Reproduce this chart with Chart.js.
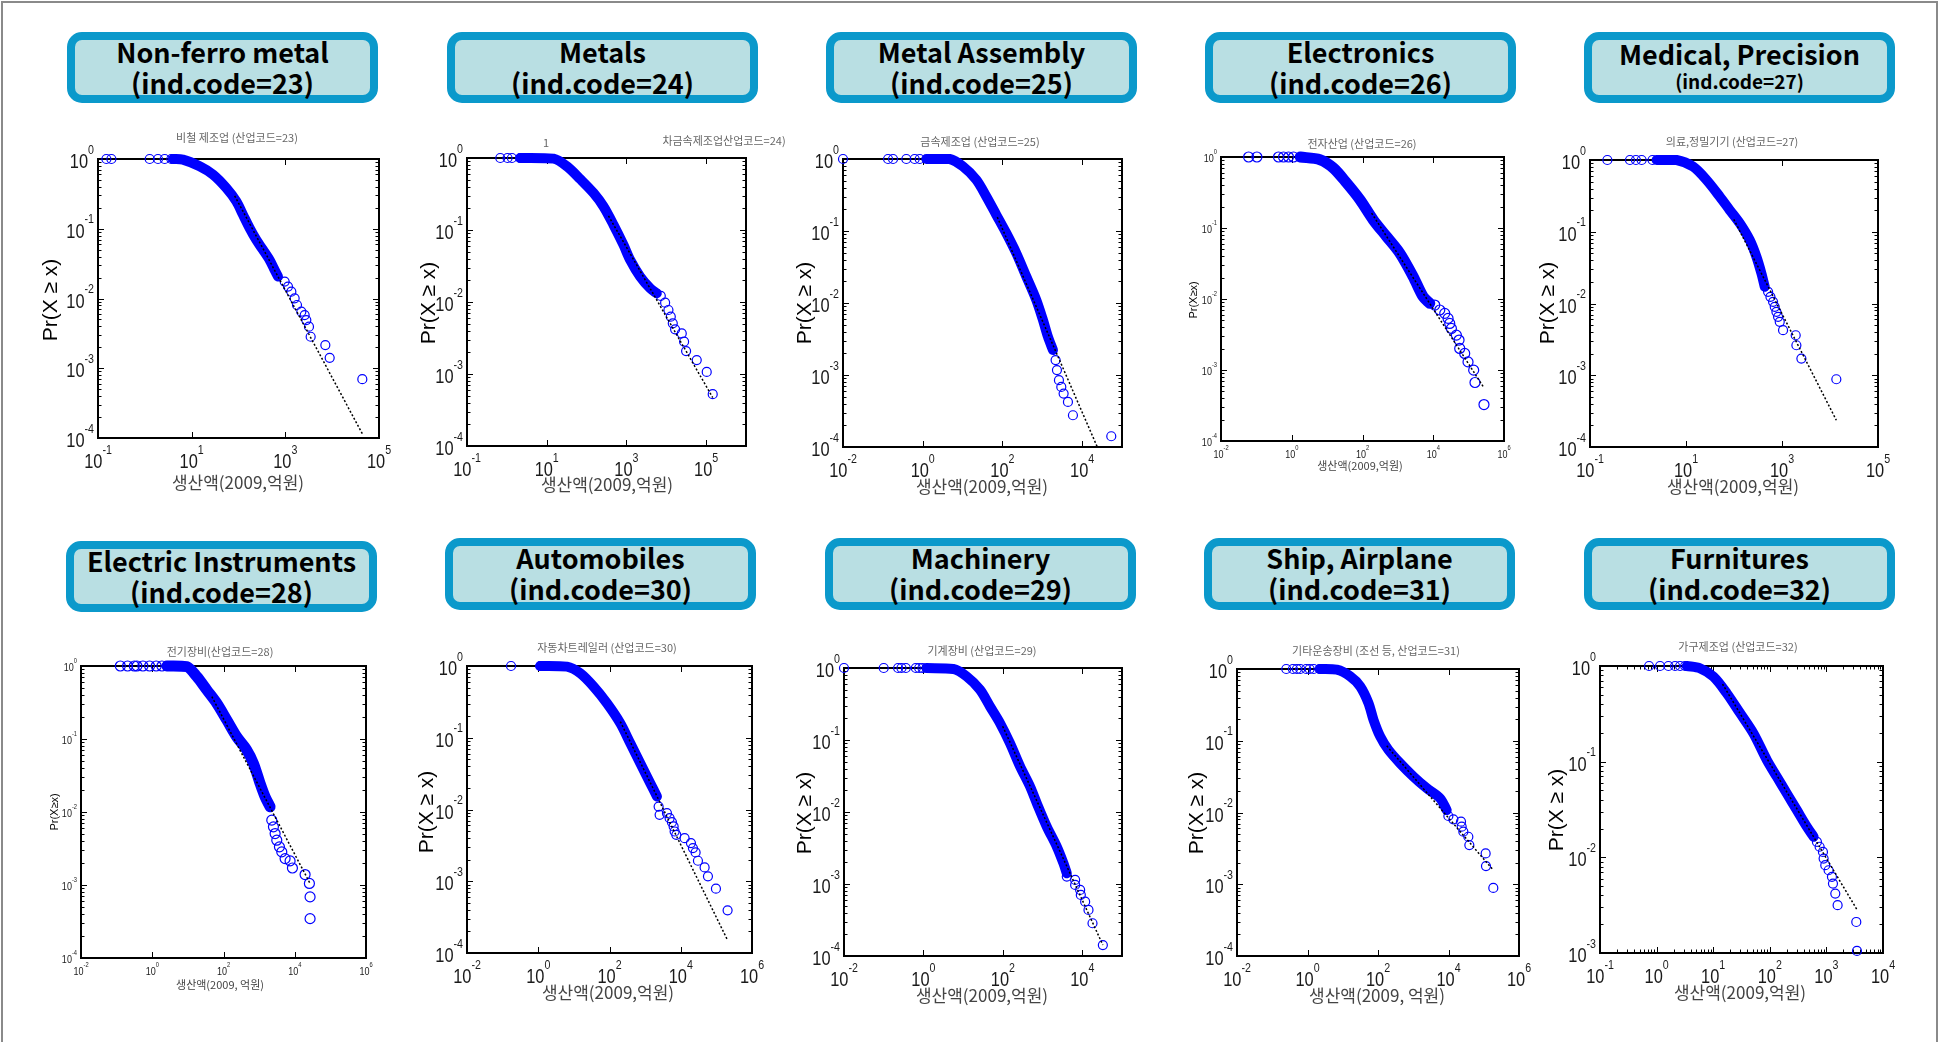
<!DOCTYPE html>
<html><head><meta charset="utf-8">
<script src="https://cdn.jsdelivr.net/npm/chart.js@4.4.1/dist/chart.umd.min.js"></script>
<style>
html,body{margin:0;padding:0;background:#fff;}
body{width:1939px;height:1042px;position:relative;overflow:hidden;}
#frame{position:absolute;left:1px;top:1px;width:1937px;height:1100px;border:2px solid #8a8a8a;box-sizing:border-box;}
.tbox{position:absolute;box-sizing:border-box;border:8px solid #0b99cb;border-radius:15px;background:#b9dfe3;}
.tbox div{position:absolute;left:0;right:0;text-align:center;font-weight:700;font-family:"Noto Sans CJK KR","Open Sans",sans-serif;color:#000;white-space:nowrap;}
canvas{position:absolute;}
</style></head>
<body>
<div id="frame"></div>
<script>
// ---------------- DATA ----------------
const TITLES = ['Non-ferro metal','Metals','Metal Assembly','Electronics','Medical, Precision','Electric Instruments','Automobiles','Machinery','Ship, Airplane','Furnitures'];
const CODES = [23,24,25,26,27,28,30,29,31,32];
const SUBTITLES = ['비철 제조업 (산업코드=23)','차금속제조업산업코드=24)','금속제조업 (산업코드=25)','전자산업 (산업코드=26)','의료,정밀기기 (산업코드=27)','전기장비(산업코드=28)','자동차트레일러 (산업코드=30)','기계장비 (산업코드=29)','기타운송장비 (조선 등, 산업코드=31)','가구제조업 (산업코드=32)'];
const SUB_EXTRA = '1';
const XTITLES = ['생산액(2009,억원)','생산액(2009,억원)','생산액(2009,억원)','생산액(2009,억원)','생산액(2009,억원)','생산액(2009, 억원)','생산액(2009,억원)','생산액(2009,억원)','생산액(2009, 억원)','생산액(2009,억원)'];
const YTITLES = ['Pr(X ≥ x)','Pr(X ≥ x)','Pr(X ≥ x)','Pr(X≥x)','Pr(X ≥ x)','Pr(X≥x)','Pr(X ≥ x)','Pr(X ≥ x)','Pr(X ≥ x)','Pr(X ≥ x)'];

const X_TICKS = [
  [0.1,10,1000,100000],
  [0.1,10,1000,100000],
  [0.01,1,100,10000],
  [0.01,1,100,10000,1000000],
  [0.1,10,1000,100000],
  [0.01,1,100,10000,1000000],
  [0.01,1,100,10000,1000000],
  [0.01,1,100,10000],
  [0.01,1,100,10000,1000000],
  [0.1,1,10,100,1000,10000]
];
const Y_TICKS_4 = [0.0001,0.001,0.01,0.1,1];
const Y_TICKS_3 = [0.001,0.01,0.1,1];
const X_RANGE = [[0.1,1e5],[0.1,1e6],[0.01,1e5],[0.01,1e6],[0.1,1e5],[0.01,1e6],[0.01,1e6],[0.01,1e5],[0.01,1e6],[0.1,1e4]];

// dense part of each CCDF (overlapping markers)
const band23 = [[4.0,1],[6.5,0.98],[14.8,0.785],[28.6,0.596],[55,0.383],[90,0.246],[125,0.158],[173,0.102],[240,0.069],[333,0.05],[462,0.0357],[591,0.0257],[697,0.0206]];
const band24 = [[2.17,1],[14.9,0.98],[32,0.766],[69,0.51],[150,0.326],[266,0.212],[474,0.118],[844,0.062],[1240,0.0384],[2208,0.0225],[3936,0.0155],[5780,0.0132]];
const band25 = [[1.23,1],[4.74,1],[10.2,0.79],[22.1,0.515],[39.4,0.302],[70.1,0.168],[125,0.0933],[223,0.0491],[397,0.0233],[707,0.011],[1040,0.0058],[1387,0.0034],[1853,0.00222]];
const band26 = [[1.73,1],[6.3,0.917],[15.0,0.70],[35.7,0.43],[84.9,0.25],[202,0.13],[479,0.0759],[1138,0.0441],[2706,0.0207],[5176,0.0108],[7980,0.00869]];
const band27 = [[2.44,1],[6.36,1],[14.1,0.807],[26.8,0.526],[50.7,0.308],[81.8,0.2],[132,0.131],[213,0.0765],[293,0.0448],[373,0.0262],[437,0.0171]];
const band28 = [[2.58,1],[9.37,0.98],[17.9,0.714],[34.1,0.469],[65,0.308],[124,0.182],[236,0.107],[451,0.0705],[693,0.0463],[1066,0.0246],[1472,0.0161],[2032,0.0118]];
const band30 = [[1.14,1],[6.4,0.98],[15.1,0.79],[35.9,0.515],[84.9,0.302],[201,0.159],[384,0.0838],[731,0.0442],[1396,0.0233],[2148,0.0152]];
const band29 = [[1.19,1],[5.62,0.97],[12.2,0.766],[26.5,0.5],[47.3,0.293],[84.7,0.172],[151,0.0906],[271,0.043],[484,0.0226],[713,0.0133],[1274,0.00628],[2276,0.00331],[3355,0.00194],[4074,0.00141]];
const band31 = [[2.3,1],[6.8,0.98],[16.3,0.79],[31.2,0.573],[53.7,0.335],[74.5,0.196],[115,0.115],[198,0.0746],[424,0.0486],[1012,0.0317],[2415,0.0218],[5754,0.0158],[8892,0.0108]];
const band32 = [[3.41,1],[5.87,0.946],[10.1,0.773],[17.4,0.518],[30,0.32],[51.5,0.197],[88.8,0.104],[133,0.0695],[200,0.0465],[301,0.0311],[453,0.0208],[594,0.0164]];

// individually visible markers (left plateau and right tail)
const pts23 = [[0.151,1],[0.193,1],[1.27,1],[1.91,1],[2.65,1],[3.68,1],[968,0.01746],[1140,0.0148],[1343,0.01254],[1581,0.01005],[1774,0.00807],[2196,0.00647],[2587,0.00579],[2806,0.00491],[3199,0.00394],[3475,0.00283],[7148,0.00215],[8850,0.00141],[44030,0.000697]];
const pts24 = [[0.684,1],[1.04,1],[1.34,1],[2.17,1],[3.19,1],[7278,0.01213],[9350,0.0098],[11330,0.00774],[12970,0.00625],[14550,0.00505],[16640,0.00417],[24450,0.00366],[27990,0.00281],[31400,0.00208],[58080,0.00156],[103400,0.00107],[146200,0.000524]];
const pts25 = [[0.01,1],[0.135,1],[0.18,1],[0.388,1],[0.628,1],[0.84,1],[2158,0.00161],[2333,0.00117],[2618,0.000847],[2999,0.000684],[3428,0.000552],[4402,0.000423],[5875,0.000276],[53800,0.000141]];
const pts26 = [[0.0603,1],[0.1035,1],[0.422,1],[0.585,1],[0.81,1],[1.12,1],[11040,0.00822],[15280,0.007],[21130,0.00628],[26240,0.00533],[29240,0.00453],[32590,0.00385],[45080,0.0031],[53580,0.00264],[55970,0.00201],[77450,0.00171],[96150,0.0013],[139000,0.000995],[151400,0.000667],[271600,0.000326]];
const pts27 = [[0.23,1],[0.68,1],[0.905,1],[1.19,1],[2.01,1],[513,0.01455],[574,0.0124],[652,0.01055],[706,0.00898],[765,0.00765],[828,0.00652],[897,0.00555],[1052,0.00425],[1930,0.00361],[1994,0.00262],[2535,0.00171],[13550,0.00088]];
const pts28 = [[0.127,1],[0.203,1],[0.313,1],[0.371,1],[0.547,1],[0.841,1],[1.29,1],[1.87,1],[2265,0.00773],[2522,0.00626],[2811,0.00507],[3129,0.00411],[3715,0.00333],[4325,0.00284],[5358,0.0023],[7398,0.00214],[8603,0.00171],[19500,0.00139],[25780,0.00105],[26920,0.000687],[26920,0.000346]];
const pts30 = [[0.172,1],[1.14,1],[2393,0.011],[2553,0.00843],[4099,0.00889],[4872,0.00757],[5667,0.00666],[6310,0.0058],[6732,0.00494],[7500,0.00444],[12830,0.00399],[19320,0.0034],[21980,0.0029],[26120,0.00252],[30380,0.00193],[46770,0.00156],[57990,0.00117],[97270,0.000787],[206500,0.000393]];
const pts29 = [[0.01,1],[0.1,1],[0.23,1],[0.28,1],[0.36,1],[0.643,1],[0.78,1],[0.946,1],[4074,0.00127],[6607,0.00114],[6607,0.00097],[8831,0.000827],[9183,0.000705],[11810,0.000569],[14330,0.000436],[18080,0.000285],[32960,0.000142]];
const pts31 = [[0.25,1],[0.386,1],[0.5,1],[0.622,1],[0.92,1],[1.15,1],[1.49,1],[2.2,1],[9912,0.00894],[13730,0.00803],[22650,0.00745],[23660,0.00634],[26370,0.0054],[36550,0.00459],[39000,0.00351],[113200,0.00269],[115700,0.00179],[186600,0.00089]];
const pts32 = [[0.736,1],[1.15,1],[1.62,1],[2.12,1],[2.6,1],[3.19,1],[681,0.0145],[759,0.0129],[869,0.0114],[893,0.0097],[955,0.00828],[1094,0.00733],[1253,0.00625],[1306,0.00532],[1436,0.00418],[1578,0.00316],[3373,0.00211],[3467,0.00105]];

// power-law fit lines (end points)
const fit23 = [[82.8,0.297],[44000,0.000115]];
const fit24 = [[355,0.157],[146000,0.000471]];
const fit25 = [[74.3,0.156],[24000,0.0001]];
const fit26 = [[181,0.162],[271600,0.00056]];
const fit27 = [[99,0.149],[13550,0.000236]];
const fit28 = [[47.1,0.38],[26920,0.00105]];
const fit30 = [[201,0.168],[198200,0.000157]];
const fit29 = [[98.9,0.155],[32960,0.000142]];
const fit31 = [[177,0.0849],[186600,0.00157]];
const fit32 = [[14.6,0.648],[3467,0.00284]];

const BANDS = [band23,band24,band25,band26,band27,band28,band30,band29,band31,band32];
const POINTS = [pts23,pts24,pts25,pts26,pts27,pts28,pts30,pts29,pts31,pts32];
const FITS = [fit23,fit24,fit25,fit26,fit27,fit28,fit30,fit29,fit31,fit32];

// ---------------- LAYOUT ----------------
const PLOT = [[98,159,379,438],[467,158,746,446],[843,159,1122,447],[1221,157,1504,441],[1590,160,1878,447],
              [81,666,366,958],[467,666,752,953],[844,668,1122,956],[1237,669,1519,956],[1600,666,1883,953]];
const CANVAS = [[20,112,385,395],[405,112,385,395],[785,112,375,395],[1165,112,380,395],[1535,112,404,395],
                [20,618,385,424],[405,618,385,424],[785,618,375,424],[1165,618,380,424],[1535,618,404,424]];
const BOX = [[67,32,311,71],[447,32,311,71],[826,32,311,71],[1205,32,311,71],[1584,32,311,71],
             [66,541,311,71],[445,538,311,72],[825,538,311,72],[1204,538,311,72],[1584,538,311,72]];
const SUB_POS = [[237,138],[724,141],[980,142],[1362,144],[1732,142],[220,652],[607,648],[982,651],[1376,651],[1738,647]];
const XT_POS = [[238,483],[607,485],[982,487],[1360,466],[1733,487],[220,985],[608,993],[982,996],[1377,996],[1740,993]];
const YT_POS = [[51,300],[429,303],[805,303],[1194,300],[1548,303],[55,812],[427,812],[805,813],[1197,813],[1557,810]];
const SMALL = [false,false,false,true,false,true,false,false,false,false];

// title boxes
BOX.forEach((b,i)=>{
  const d = document.createElement('div');
  d.className='tbox';
  d.style.left=b[0]+'px'; d.style.top=b[1]+'px'; d.style.width=b[2]+'px'; d.style.height=b[3]+'px';
  const l1 = document.createElement('div');
  const l2 = document.createElement('div');
  l1.textContent = TITLES[i];
  l2.textContent = '(ind.code=' + CODES[i] + ')';
  if (i===4) {
    l1.style.cssText='top:-2px;font-size:27px;line-height:32px;';
    l2.style.cssText='top:29px;font-size:19px;line-height:24px;';
  } else {
    l1.style.cssText='top:-4px;font-size:27px;line-height:31px;';
    l2.style.cssText='top:27px;font-size:27px;line-height:31px;';
  }
  d.appendChild(l1); d.appendChild(l2);
  document.body.appendChild(d);
});

const FONT = '"Liberation Sans", Arial, sans-serif';
const KFONT = '"Noto Sans CJK KR", sans-serif';
const NARROW = 0.82;

function drawPow(ctx, v, x, y, mode, f){
  const e = String(Math.round(Math.log10(v)));
  const fe = Math.round(f*0.64);
  ctx.font = f+'px '+FONT; const w1 = ctx.measureText('10').width*NARROW;
  ctx.font = fe+'px '+FONT; const w2 = ctx.measureText(e).width*NARROW;
  let x0, b1;
  if (mode==='y'){ x0 = x - w1 - w2; b1 = y + 0.45*f; }
  else { x0 = x - (w1+w2)/2; b1 = y; }
  ctx.textAlign='left'; ctx.textBaseline='alphabetic';
  ctx.save(); ctx.translate(x0, b1); ctx.scale(NARROW, 1);
  ctx.font = f+'px '+FONT; ctx.fillText('10', 0, 0);
  ctx.restore();
  ctx.save(); ctx.translate(x0 + w1, b1 - 0.72*f); ctx.scale(NARROW, 1);
  ctx.font = fe+'px '+FONT; ctx.fillText(e, 0, 0);
  ctx.restore();
}

const matlabAxes = {
  id:'matlabAxes',
  beforeDatasetsDraw(chart, args, opts){
    const i = opts.i;
    const {ctx, chartArea:a} = chart;
    const xs = chart.scales.x, ys = chart.scales.y;
    const ox = CANVAS[i][0], oy = CANVAS[i][1];
    const small = SMALL[i];
    const yTicks = i===9 ? Y_TICKS_3 : Y_TICKS_4;
    ctx.save();
    ctx.strokeStyle='#000'; ctx.lineWidth=1;
    ctx.beginPath();
    for (let k=0;k<yTicks.length;k++){
      const py = Math.round(ys.getPixelForValue(yTicks[k]))+0.5;
      ctx.moveTo(a.left,py); ctx.lineTo(a.left+6,py);
      ctx.moveTo(a.right,py); ctx.lineTo(a.right-6,py);
      if (k<yTicks.length-1){
        for (let m=2;m<=9;m++){
          const q = Math.round(ys.getPixelForValue(yTicks[k]*m))+0.5;
          ctx.moveTo(a.left,q); ctx.lineTo(a.left+3.5,q);
          ctx.moveTo(a.right,q); ctx.lineTo(a.right-3.5,q);
        }
      }
    }
    const xt = X_TICKS[i];
    xt.forEach((v,k)=>{
      const px = Math.round(xs.getPixelForValue(v))+0.5;
      ctx.moveTo(px,a.bottom); ctx.lineTo(px,a.bottom-6);
      ctx.moveTo(px,a.top); ctx.lineTo(px,a.top+6);
      if (i===9 && k<xt.length-1){
        for (let m=2;m<=9;m++){
          const q = Math.round(xs.getPixelForValue(v*m))+0.5;
          ctx.moveTo(q,a.bottom); ctx.lineTo(q,a.bottom-3.5);
          ctx.moveTo(q,a.top); ctx.lineTo(q,a.top+3.5);
        }
      }
    });
    ctx.stroke();
    ctx.lineWidth=2;
    ctx.strokeRect(a.left, a.top, a.right-a.left, a.bottom-a.top);

    ctx.fillStyle='#1a1a1a';
    const f = small ? 11 : 20;
    yTicks.forEach(v=>{
      drawPow(ctx, v, a.left-(small?4:4), ys.getPixelForValue(v), 'y', f);
    });
    xt.forEach(v=>{
      drawPow(ctx, v, xs.getPixelForValue(v), a.bottom + (small?1.55:1.5)*f, 'x', f);
    });

    ctx.fillStyle='#666';
    ctx.font='11px '+KFONT;
    ctx.textAlign='center'; ctx.textBaseline='middle';
    ctx.fillText(SUBTITLES[i], SUB_POS[i][0]-ox, SUB_POS[i][1]-oy);
    if (i===1) ctx.fillText(SUB_EXTRA, 546-ox, 143-oy);

    ctx.fillStyle='#444';
    ctx.font=(small?11:17)+'px '+KFONT;
    ctx.fillText(XTITLES[i], XT_POS[i][0]-ox, XT_POS[i][1]-oy);

    ctx.save();
    ctx.translate(YT_POS[i][0]-ox, YT_POS[i][1]-oy);
    ctx.rotate(-Math.PI/2);
    ctx.fillStyle='#000';
    ctx.font=(small?11:21)+'px '+FONT;
    ctx.textAlign='center'; ctx.textBaseline='middle';
    ctx.fillText(YTITLES[i],0,0);
    ctx.restore();
    ctx.restore();
  }
};

const BLUE = '#0000ff';
const toXY = arr => arr.map(p => ({x:p[0], y:p[1]}));

PLOT.forEach((pr,i)=>{
  const [cx,cy,cw,ch] = CANVAS[i];
  const cv = document.createElement('canvas');
  cv.width=cw; cv.height=ch;
  cv.style.left=cx+'px'; cv.style.top=cy+'px';
  cv.style.width=cw+'px'; cv.style.height=ch+'px';
  document.body.appendChild(cv);
  const small = SMALL[i];
  const yMin = i===9 ? Y_TICKS_3[0] : Y_TICKS_4[0];
  new Chart(cv, {
    type:'scatter',
    data:{datasets:[
      {data:toXY(FITS[i]), showLine:true, borderColor:'#000', borderWidth:1.5, borderDash:[2,2], pointRadius:0, order:0, clip:false},
      {data:toXY(POINTS[i]), showLine:false, pointRadius: small?5:4.5, pointBorderWidth:1.2,
       borderColor:BLUE, pointBorderColor:BLUE, backgroundColor:'rgba(0,0,0,0)', pointBackgroundColor:'rgba(0,0,0,0)', order:1, clip:false},
      {data:toXY(BANDS[i]), showLine:true, borderColor:BLUE, borderWidth:small?11:10, pointRadius:0, tension:0.3,
       borderCapStyle:'round', borderJoinStyle:'round', order:2, clip:false}
    ]},
    options:{
      responsive:false, animation:false, events:[], devicePixelRatio:1,
      layout:{padding:{left:pr[0]-cx, top:pr[1]-cy, right:cx+cw-pr[2], bottom:cy+ch-pr[3]}},
      plugins:{legend:{display:false}, tooltip:{enabled:false}, title:{display:false}, matlabAxes:{i:i}},
      scales:{
        x:{type:'logarithmic', min:X_RANGE[i][0], max:X_RANGE[i][1], ticks:{display:false}, grid:{display:false, drawTicks:false}, border:{display:false}, afterFit:s=>{s.height=0;}},
        y:{type:'logarithmic', min:yMin, max:1, ticks:{display:false}, grid:{display:false, drawTicks:false}, border:{display:false}, afterFit:s=>{s.width=0;}}
      }
    },
    plugins:[matlabAxes]
  });
});
</script>
</body></html>
